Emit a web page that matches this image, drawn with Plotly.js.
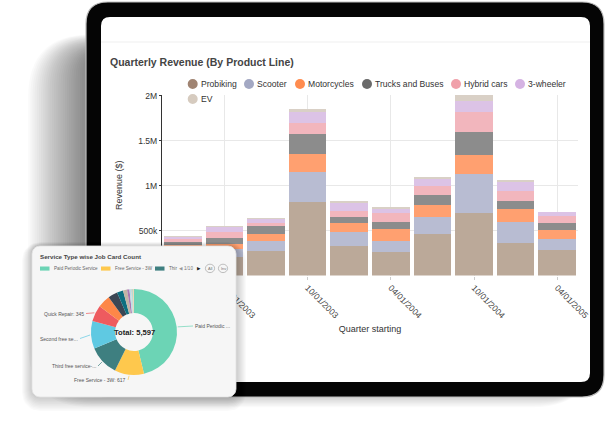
<!DOCTYPE html>
<html><head><meta charset="utf-8">
<script src="https://cdn.plot.ly/plotly-3.0.1.min.js"></script>
<style>html,body{margin:0;padding:0;background:#fff;overflow:hidden}#chart{width:607px;height:439px}</style>
</head><body><div id="chart"></div>
<script>
// ---------- data ----------
const quarters = ['01/01/2003','04/01/2003','07/01/2003','10/01/2003','01/01/2004','04/01/2004','07/01/2004','10/01/2004','01/01/2005','04/01/2005'];
const tickQuarters = ['04/01/2003','10/01/2003','04/01/2004','10/01/2004','04/01/2005'];
const seriesNames = ['Probiking','Scooter','Motorcycles','Trucks and Buses','Hybrid cars','3-wheeler','EV'];
const probiking    = [200000,209000,272000,820000,331000,258000,461000,691000,364000,287000];
const scooter      = [ 90000, 86000,108000,333000,156000,129000,189000,433000,233000,116000];
const motorcycles  = [ 52000, 56000, 84000,197000, 93000,133000,130000,211000,138000,100000];
const trucks       = [ 30000, 67000, 86000,219000, 73000, 78000,111000,262000, 89000, 84000];
const hybridCars   = [ 30000, 70000, 37000,122000, 67000, 93000,103000,216000,114000, 74000];
const threeWheeler = [ 29000, 56000, 44000,122000, 86000, 51000, 81000,129000, 97000, 41000];
const ev           = [ 11000, 11000, 11000, 33000, 19000, 16000, 22000, 63000, 26000,  7000];
const seriesValues = [probiking, scooter, motorcycles, trucks, hybridCars, threeWheeler, ev];

const serviceTypes = ['Paid Periodic Service','Free Service - 3W','Third free service-2W','Second free service','Quick Repair','Running Repair','Accidental Repair','First free service','Washing','Warranty','Pre-delivery Inspection','Body Repair','Battery Check','Tyre Replacement','Others'];
const jobCounts    = [2590,617,640,580,345,265,200,130,85,50,30,22,18,12,13];

// ---------- style ----------
const W = 607, H = 439;
const FONT = 'Liberation Sans, Arial, sans-serif';
const legendColors = ['#a08472','#a3a8c3','#ff8c4f','#6a6a6a','#f0a0aa','#d5b3e3','#d6cbbf'];
const barColors    = ['#bba999','#b8bcd2','#ffa070','#8c8c8c','#f2b6bd','#dcc3e6','#d9d0c6'];
const legendCx  = [192.7,249,300,367,456,520,192.7];
const legendCy  = [84,84,84,84,84,84,99];
const pieColors = ['#6cd4b5','#fec84d','#3e7f80','#5fc9e2','#ee5b5f','#fd8748','#3b4654','#0d6f80','#c2b4a5','#a978b1','#b8dfe7','#d3d3d3','#9fd8cf','#e7d9b0','#f0c8a0'];

const px = x => x / W, py = y => 1 - y / H;
function rrPath(x0,y0,x1,y1,r){
  const P=(x,y)=>px(x)+','+py(y);
  return 'M'+P(x0+r,y0)+' L'+P(x1-r,y0)+' Q'+P(x1,y0)+' '+P(x1,y0+r)+
         ' L'+P(x1,y1-r)+' Q'+P(x1,y1)+' '+P(x1-r,y1)+
         ' L'+P(x0+r,y1)+' Q'+P(x0,y1)+' '+P(x0,y1-r)+
         ' L'+P(x0,y0+r)+' Q'+P(x0,y0)+' '+P(x0+r,y0)+' Z';
}
function rrPts(x0,y0,x1,y1,r){
  const xs=[],ys=[];
  const corners=[[x1-r,y0+r,-90],[x1-r,y1-r,0],[x0+r,y1-r,90],[x0+r,y0+r,180]];
  corners.forEach(([cx,cy,a0])=>{for(let k=0;k<=8;k++){const a=(a0+k*90/8)*Math.PI/180;xs.push(cx+r*Math.cos(a));ys.push(cy+r*Math.sin(a));}});
  xs.push(xs[0]);ys.push(ys[0]);
  return {xs,ys};
}

const traces = [];
// stacked bars
seriesNames.forEach((n,i)=>{
  traces.push({type:'bar', name:n, x:quarters, y:seriesValues[i], marker:{color:barColors[i], line:{width:0}},
    showlegend:false, hoverinfo:'skip', xaxis:'x', yaxis:'y'});
});
// card shadow + card (overlay pixel axes)
for(let k=10;k>=1;k--){
  const p=rrPts(32-1*k,246-0.4*k,236+1*k,397+1.4*k,8+k);
  traces.push({type:'scatter',mode:'lines',x:p.xs,y:p.ys,fill:'toself',fillcolor:'rgba(0,0,0,0.02)',line:{width:0},hoverinfo:'skip',showlegend:false,xaxis:'x2',yaxis:'y2'});
}
const card=rrPts(32,246,236,397,8);
traces.push({type:'scatter',mode:'lines',x:card.xs,y:card.ys,fill:'toself',fillcolor:'#f6f6f6',line:{width:0.8,color:'#e3e3e3'},hoverinfo:'skip',showlegend:false,xaxis:'x2',yaxis:'y2'});

// donut
const pcx=134, pcy=332, pR=43;
traces.push({type:'pie', labels:serviceTypes, values:jobCounts, hole:0.44, sort:false, direction:'clockwise', rotation:0,
  textinfo:'none', hoverinfo:'skip', showlegend:false, marker:{colors:pieColors, line:{width:0}},
  domain:{x:[px(pcx-pR),px(pcx+pR)], y:[py(pcy+pR),py(pcy-pR)]}});

const shapes=[], annotations=[];
const PP={xref:'paper',yref:'paper'};
// tablet shadow (soft, layered)
for(let k=1;k<=26;k++){
  shapes.push(Object.assign({type:'path', layer:'below', path:rrPath(84-2.15*k,50-0.6*k,596,376+1.2*k,24+1.5*k), fillcolor:'rgba(0,0,0,0.021)', line:{width:0}},PP));
}
// tablet frame + screen
shapes.push(Object.assign({type:'path', layer:'below', path:rrPath(86,2,604,397,22), fillcolor:'#050505', line:{color:'#bdbdbd',width:1.2}},PP));
shapes.push(Object.assign({type:'path', layer:'below', path:rrPath(101,17,590,382,9), fillcolor:'#ffffff', line:{width:0}},PP));
shapes.push(Object.assign({type:'line', layer:'below', x0:px(101),x1:px(590),y0:py(42),y1:py(42), line:{color:'#efefef',width:1}},PP));

// main legend (custom)
seriesNames.forEach((n,i)=>{
  const cx=legendCx[i], cy=legendCy[i];
  shapes.push({type:'circle', layer:'above', xref:'paper', yref:'paper', x0:px(cx-5),x1:px(cx+5),y0:py(cy+5),y1:py(cy-5), fillcolor:legendColors[i], line:{width:0}});
  annotations.push({xref:'paper',yref:'paper',x:px(cx+6),y:py(cy),xanchor:'left',yanchor:'middle',showarrow:false,text:n,font:{family:FONT,size:8.6,color:'#333'}});
});

// card title & legend
annotations.push({xref:'x2',yref:'y2',x:38,y:256.5,xanchor:'left',yanchor:'middle',showarrow:false,text:'<b>Service Type wise Job Card Count</b>',font:{family:FONT,size:6.2,color:'#444'}});
const cardLegX=[40,101,155], cardLegMax=[99,99,4];
cardLegX.forEach((x,i)=>{
  shapes.push({type:'rect',layer:'above',xref:'x2',yref:'y2',x0:x,x1:x+9.5,y0:266.5,y1:270.6,fillcolor:pieColors[i],line:{width:0}});
  annotations.push({xref:'x2',yref:'y2',x:x+11.5,y:268.5,xanchor:'left',yanchor:'middle',showarrow:false,text:serviceTypes[i].slice(0,cardLegMax[i]),font:{family:FONT,size:4.6,color:'#666'}});
});
annotations.push({xref:'x2',yref:'y2',x:180.5,y:268.5,showarrow:false,text:'◀',font:{family:'DejaVu Sans',size:4.5,color:'#999'}});
annotations.push({xref:'x2',yref:'y2',x:188.5,y:268.5,showarrow:false,text:'1/10',font:{family:FONT,size:4.6,color:'#777'}});
annotations.push({xref:'x2',yref:'y2',x:199,y:268.5,showarrow:false,text:'▶',font:{family:'DejaVu Sans',size:4.5,color:'#222'}});
[[210,'All'],[223,'Inv']].forEach(([x,t])=>{
  shapes.push({type:'circle',layer:'above',xref:'x2',yref:'y2',x0:x-4.6,x1:x+4.6,y0:264.2,y1:272.6,fillcolor:'rgba(0,0,0,0)',line:{color:'#999',width:0.6}});
  annotations.push({xref:'x2',yref:'y2',x:x,y:268.5,showarrow:false,text:t,font:{family:FONT,size:4,color:'#777'}});
});

// donut total + leader labels
const total = jobCounts.reduce((a,b)=>a+b,0);
annotations.push({xref:'x2',yref:'y2',x:pcx,y:pcy,showarrow:false,text:'<b>Total: '+total.toLocaleString('en-US')+'</b>',font:{family:FONT,size:7.6,color:'#222'}});
let cum=0; const mids=jobCounts.map(v=>{const m=(cum+v/2)/total*2*Math.PI; cum+=v; return m;});
const pieLabels=[
  {i:0,tx:193,ty:326,anchor:'left',max:14},
  {i:4,tx:86,ty:313.5,anchor:'right',max:99},
  {i:3,tx:80,ty:338.5,anchor:'right',max:14},
  {i:2,tx:98,ty:366,anchor:'right',max:19},
  {i:1,tx:128,ty:380,anchor:'right',max:99}
];
pieLabels.forEach(s=>{
  const full=serviceTypes[s.i]+': '+jobCounts[s.i];
  const txt=full.length>s.max?full.slice(0,s.max)+'...':full;
  const a=mids[s.i];
  annotations.push({xref:'x2',yref:'y2',axref:'x2',ayref:'y2',x:pcx+(pR+1)*Math.sin(a),y:pcy-(pR+1)*Math.cos(a),ax:s.tx,ay:s.ty,
    xanchor:s.anchor,yanchor:'middle',text:txt,showarrow:true,arrowhead:0,arrowwidth:0.7,arrowcolor:pieColors[s.i],standoff:0,
    font:{family:FONT,size:5,color:'#555'}});
});

const layout={
  width:W,height:H,margin:{l:0,r:0,t:0,b:0},
  paper_bgcolor:'#ffffff',plot_bgcolor:'rgba(0,0,0,0)',
  font:{family:FONT,color:'#444'},
  title:{text:'<b>Quarterly Revenue (By Product Line)</b>',x:px(110),xanchor:'left',xref:'paper',y:py(62),yanchor:'middle',yref:'paper',font:{family:FONT,size:10.5,color:'#444'}},
  barmode:'stack',bargap:0.1,showlegend:false,
  xaxis:{domain:[px(162),px(578)],anchor:'y',type:'category',range:[-0.5,9.5],tickmode:'array',tickvals:tickQuarters,ticktext:tickQuarters,
    tickangle:45,tickfont:{family:FONT,size:8.6,color:'#444'},showgrid:true,gridcolor:'#e8e8e8',ticks:'outside',ticklen:3,tickcolor:'#cccccc',
    showline:false,zeroline:false,title:{text:'Quarter starting',font:{family:FONT,size:9,color:'#333'},standoff:6}},
  yaxis:{domain:[py(275.5),py(95)],anchor:'x',range:[0,2006000],dtick:500000,tickformat:'~s',tickfont:{family:FONT,size:8.6,color:'#333'},
    showgrid:true,gridcolor:'#e8e8e8',showline:true,linecolor:'#333',linewidth:1,ticks:'outside',ticklen:2,tickcolor:'#333',zeroline:false,
    title:{text:'Revenue ($)',font:{family:FONT,size:9,color:'#333'},standoff:14}},
  xaxis2:{domain:[0,1],range:[0,W],anchor:'y2',visible:false,fixedrange:true},
  yaxis2:{domain:[0,1],range:[H,0],anchor:'x2',visible:false,fixedrange:true},
  shapes:shapes,annotations:annotations
};
Plotly.newPlot('chart',traces,layout,{displayModeBar:false,staticPlot:true});
</script>
</body></html>
